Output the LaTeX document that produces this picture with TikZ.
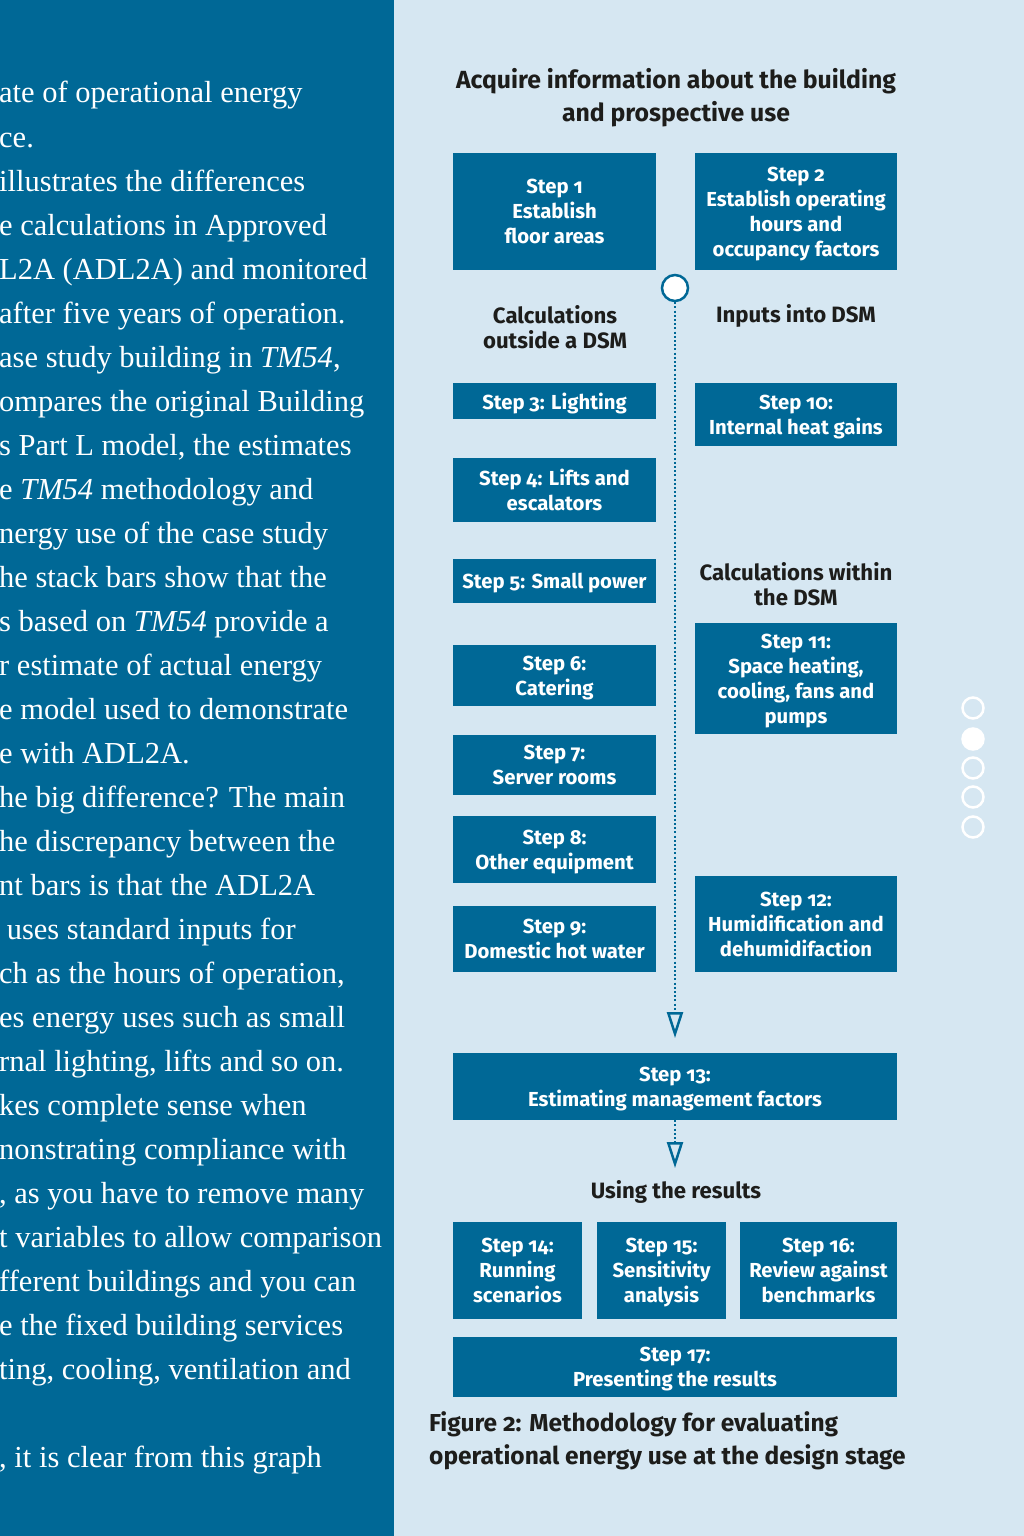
\documentclass[tikz,border=0pt]{standalone}
\usepackage{fontspec}
\setmainfont{Fira Sans}[Numbers=OldStyle]
\newfontfamily\bodyfont{Liberation Serif}
\usetikzlibrary{positioning,arrows.meta}
\definecolor{pageblue}{RGB}{0,104,150}
\definecolor{pagelight}{RGB}{214,231,242}
\definecolor{inkdark}{RGB}{29,29,27}

\begin{document}
\begin{tikzpicture}[x=1pt,y=-1pt,
    stepnode/.style={rectangle, fill=pageblue, text=white, align=center, inner sep=0pt, font=\bfseries\fontsize{20.3}{25}\selectfont, text depth=0pt},
    headnode/.style={align=center, text=inkdark, inner sep=0pt, font=\bfseries\fontsize{22.2}{25}\selectfont},
    bodyline/.style={anchor=base west, inner sep=0pt, text=white, font=\bodyfont\fontsize{30.5}{44}\selectfont},
    pagedot/.style={circle, draw=white, line width=2.5pt, minimum size=21pt, inner sep=0pt},
    flow/.style={draw=pageblue, line width=2pt, dash pattern=on 2pt off 2.2pt, -{Triangle[open, length=26pt, width=16pt, line width=2.5pt]}},]
    \useasboundingbox (0,0) rectangle (1024,1536);
    %Background
    \fill[pageblue] (0,0) rectangle (394,1536);
    \fill[pagelight] (394,0) rectangle (1024,1536);

    %Text column
    \begin{scope}
    \clip (0,0) rectangle (394,1536);
    \foreach \bodytxt [count=\k] in {{ate of operational energy},{ce.},{illustrates the differences},{e calculations in Approved},{L2A (ADL2A) and monitored},{after five years of operation.},{ase study building in \textit{TM54},},{ompares the original Building},{s Part L model, the estimates},{e \textit{TM54} methodology and},{nergy use of the case study},{he stack bars show that the},{s based on \textit{TM54} provide a},{r estimate of actual energy},{e model used to demonstrate},{e with ADL2A.},{he big difference? The main},{he discrepancy between the},{nt bars is that the ADL2A},{\ uses standard inputs for},{ch as the hours of operation,},{es energy uses such as small},{rnal lighting, lifts and so on.},{kes complete sense when},{nonstrating compliance with},{, as you have to remove many},{t variables to allow comparison},{fferent buildings and you can},{e the fixed building services},{ting, cooling, ventilation and},{},{, it is clear from this graph}}
        \node[bodyline] (body\k) at (-1,{103+44*(\k-1)}) {\bodytxt};
    \end{scope}

    %Nodes
    \node[headnode, font=\bfseries\fontsize{24.8}{33}\selectfont] (title) at (676,98) {Acquire information about the building\\and prospective use};
    \node[stepnode, minimum width=203pt, minimum height=117pt] (step1) at (554.5,211.5) {Step 1\\Establish\\floor areas};
    \node[stepnode, minimum width=202pt, minimum height=117pt] (step2) at (796,211.5) {Step 2\\Establish operating\\hours and\\occupancy factors};
    \node[circle, draw=pageblue, fill=white, line width=2.5pt, minimum size=26pt, inner sep=0pt] (hub) at (675,288) {};
    \node[headnode] (outside) at (555,327) {Calculations\\outside a DSM};
    \node[headnode] (inputs) at (796,316) {Inputs into DSM};
    \node[stepnode, minimum width=203pt, minimum height=36pt] (step3) at (554.5,401) {Step 3: Lighting};
    \node[stepnode, minimum width=202pt, minimum height=63pt] (step10) at (796,414.5) {Step 10:\\Internal heat gains};
    \node[stepnode, minimum width=203pt, minimum height=64pt] (step4) at (554.5,490) {Step 4: Lifts and\\escalators};
    \node[stepnode, minimum width=203pt, minimum height=44pt] (step5) at (554.5,581) {Step 5: Small power};
    \node[headnode] (within) at (796,584) {Calculations within\\the DSM};
    \node[stepnode, minimum width=203pt, minimum height=61pt] (step6) at (554.5,675.5) {Step 6:\\Catering};
    \node[stepnode, minimum width=202pt, minimum height=111pt] (step11) at (796,678.5) {Step 11:\\Space heating,\\cooling, fans and\\pumps};
    \node[stepnode, minimum width=203pt, minimum height=60pt] (step7) at (554.5,765) {Step 7:\\Server rooms};
    \node[stepnode, minimum width=203pt, minimum height=67pt] (step8) at (554.5,849.5) {Step 8:\\Other equipment};
    \node[stepnode, minimum width=202pt, minimum height=96pt] (step12) at (796,924) {Step 12:\\Humidification and\\dehumidifaction};
    \node[stepnode, minimum width=203pt, minimum height=66pt] (step9) at (554.5,939) {Step 9:\\Domestic hot water};
    \coordinate (join) at (675,1038);
    \node[stepnode, minimum width=444pt, minimum height=67pt] (step13) at (675,1086.5) {Step 13:\\Estimating management factors};
    \coordinate (results) at (675,1168);
    \node[headnode] (using) at (676,1192) {Using the results};
    \node[stepnode, minimum width=129pt, minimum height=97pt] (step14) at (517.5,1270.5) {Step 14:\\Running\\scenarios};
    \node[stepnode, minimum width=129pt, minimum height=97pt] (step15) at (661.5,1270.5) {Step 15:\\Sensitivity\\analysis};
    \node[stepnode, minimum width=157pt, minimum height=97pt] (step16) at (818.5,1270.5) {Step 16:\\Review against\\benchmarks};
    \node[stepnode, minimum width=444pt, minimum height=60pt] (step17) at (675,1367) {Step 17:\\Presenting the results};
    \node[headnode, anchor=west, align=left, font=\bfseries\fontsize{24.5}{33}\selectfont] (caption) at (429,1441) {Figure 2: Methodology for evaluating\\operational energy use at the design stage};

    %Page dots
    \foreach \y/\f [count=\k] in {708/none,739/white,768/none,797/none,827/none}
        \node[pagedot, fill=\f] (dot\k) at (973,\y) {};

    % %Lines
    \draw[flow] (hub.south) -- (join);
    \draw[flow] (step13.south) -- (results);
\end{tikzpicture}
\end{document}
